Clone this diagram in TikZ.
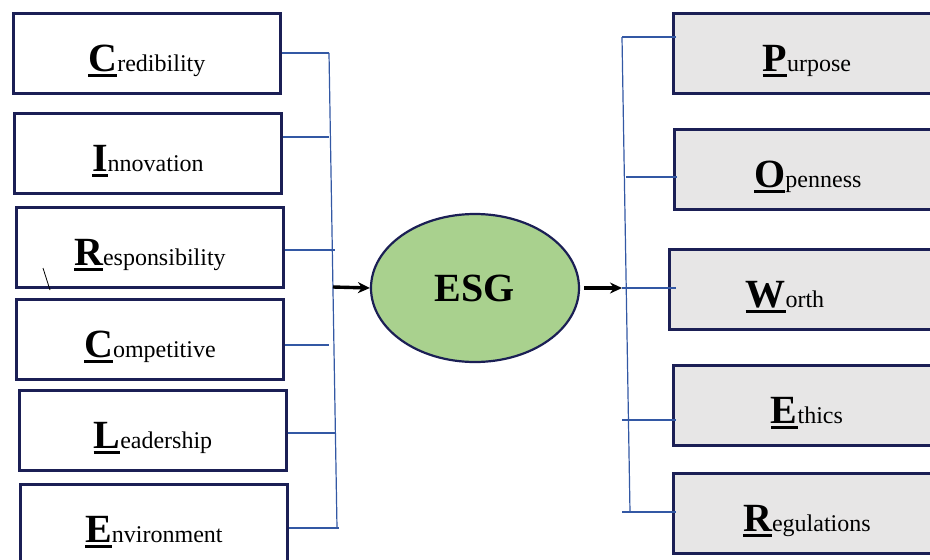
\documentclass[tikz,border=0pt]{standalone}
\usepackage{fontspec}
\setmainfont{Liberation Serif}
\usetikzlibrary{arrows.meta}
\usetikzlibrary{shapes.geometric}
\usetikzlibrary{calc}
\usetikzlibrary{positioning}

\definecolor{boxline}{HTML}{1B1F55}
\definecolor{boxgray}{HTML}{E7E6E6}
\definecolor{esggreen}{HTML}{A9D18E}
\definecolor{linkblue}{HTML}{3358A4}

\newcommand{\initial}[2]{\setbox0\hbox{\fontsize{40}{40}\selectfont\bfseries #1}\rlap{\rule[-6pt]{\wd0}{3pt}}\box0{\fontsize{24}{24}\selectfont #2}}

\tikzset{
    leftbox/.style={draw=boxline, line width=2.8pt, fill=white, minimum width=267pt,
        minimum height=80pt, anchor=north west, inner sep=0pt, text height=36pt, text depth=0pt},
    rightbox/.style={leftbox, fill=boxgray},
    link/.style={draw=linkblue, line width=1.2pt},
    flow/.style={-{Stealth[length=12pt,width=11pt]}, line width=3.4pt, black}
}

\begin{document}
\begin{tikzpicture}[x=1pt,y=-1pt]
    \useasboundingbox (0,0) rectangle (930,560);
    \clip (0,0) rectangle (930,560);

    \node[leftbox] (cred)   at (12,12)  {\initial{C}{redibility}};
    \node[leftbox] (innov)  at (13,112) {\initial{I}{nnovation}};
    \node[leftbox] (resp)   at (15,206) {\initial{R}{esponsibility}};
    \node[leftbox] (compet) at (15,298) {\initial{C}{ompetitive}};
    \node[leftbox] (lead)   at (18,389) {\initial{L}{eadership}};
    \node[leftbox] (envir)  at (19,483) {\initial{E}{nvironment}};

    \node[rightbox] (purp)  at (672,12)  {\initial{P}{urpose}};
    \node[rightbox] (open)  at (673,128) {\initial{O}{penness}};
    \node[rightbox] (worth) at (668,248) {\initial{W}{orth}\hspace*{36pt}};
    \node[rightbox] (ethic) at (672,364) {\initial{E}{thics}};
    \node[rightbox] (regul) at (672,472) {\initial{R}{egulations}};

    \node[ellipse, draw=boxline, line width=2.2pt, fill=esggreen, minimum width=208pt,
        minimum height=148pt, font=\fontsize{40}{40}\selectfont\bfseries] (esg) at (475,288) {ESG};

    \draw[line width=0.8pt] (43,268) -- (50,290);

    % left side
    \coordinate (l1) at (329,53);
    \coordinate (l2) at (329,137);
    \coordinate (l3) at (335,250);
    \coordinate (l4) at (329,345);
    \coordinate (l5) at (336,433);
    \coordinate (l6) at (339,528);
    \coordinate (lbot) at (337,528);
    \coordinate (lmid) at (333,287);
    \draw[link] (l1) -- (lbot);
    \draw[link] (cred.east |- l1) -- (l1);
    \draw[link] (innov.east |- l2) -- (l2);
    \draw[link] (resp.east |- l3) -- (l3);
    \draw[link] (compet.east |- l4) -- (l4);
    \draw[link] (lead.east |- l5) -- (l5);
    \draw[link] (envir.east |- l6) -- (l6);
    \draw[flow] (lmid) -- (esg.west);

    % right side
    \coordinate (r1) at (622,37);
    \coordinate (r2) at (626,177);
    \coordinate (r3) at (622,288);
    \coordinate (r4) at (622,420);
    \coordinate (r5) at (622,512);
    \coordinate (rbot) at (630,512);
    \draw[link] (r1) -- (rbot);
    \draw[link] (r1) -- ([xshift=4pt]purp.west |- r1);
    \draw[link] (r2) -- ([xshift=4pt]open.west |- r2);
    \draw[link] (r3) -- ([xshift=8pt]worth.west |- r3);
    \draw[link] (r4) -- ([xshift=4pt]ethic.west |- r4);
    \draw[link] (r5) -- ([xshift=4pt]regul.west |- r5);
    \draw[flow] ([xshift=4pt]esg.east) -- (r3);
\end{tikzpicture}
\end{document}
